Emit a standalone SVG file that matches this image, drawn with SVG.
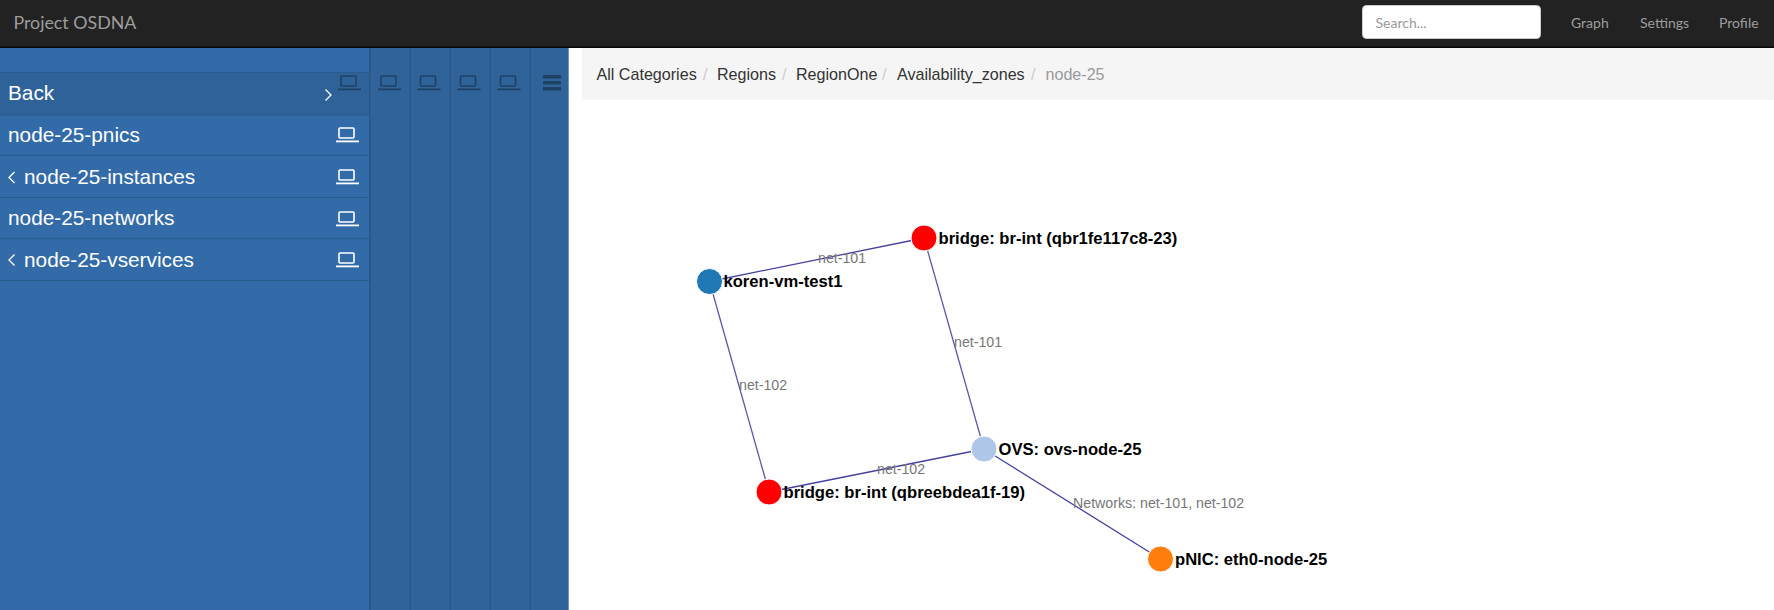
<svg xmlns="http://www.w3.org/2000/svg" width="1774" height="610" viewBox="0 0 1774 610">
<defs>
<style>
.nav{font-family:Lato,"Liberation Sans",sans-serif;font-size:14px;fill:#9d9d9d}
.menu{font-family:"Liberation Sans",Arial,sans-serif;font-size:20.800px;fill:#fff}
.crumb{font-family:"Liberation Sans",Arial,sans-serif;font-size:16.100px;fill:#333}
.sep{font-family:"Liberation Sans",Arial,sans-serif;font-size:16px;fill:#ccc}
.nl{font-family:"Liberation Sans",Arial,sans-serif;font-size:16.600px;font-weight:bold;fill:#000}
.el{font-family:"Liberation Sans",Arial,sans-serif;font-size:14.200px;fill:#777}
.edge{stroke:#5c58ad;stroke-width:1.300;fill:none}
.dark{stroke:#46429f}
.col{fill:#2f6399}
.div{fill:#295788}
.rowline{fill:#2a5a8e}
</style>
<g id="lap"><rect x="3" y="0.5" width="15" height="10" rx="1" fill="none" stroke="currentColor" stroke-width="1.6"/><rect x="0" y="13" width="23" height="1.8" fill="currentColor"/></g>
</defs>
<rect width="1774" height="610" fill="#fff"/>
<g id="navbar">
<rect width="1774" height="47" fill="#222"/><rect y="46.500" width="1774" height="1.500" fill="#080808"/>
<text x="13.500" y="29" font-family="Lato,'Liberation Sans',sans-serif" font-size="17.800" fill="#9d9d9d">Project OSDNA</text>
<rect x="1362.500" y="5.500" width="178" height="33" rx="4" fill="#fff" stroke="#ccc"/>
<text class="nav" x="1375.500" y="28" style="fill:#999">Search...</text>
<text class="nav" x="1571" y="28">Graph</text>
<text class="nav" x="1640" y="28">Settings</text>
<text class="nav" x="1719" y="28">Profile</text>
</g>
<g id="sidebar">
<rect y="48" width="568" height="562" class="col"/>
<rect x="0" y="48" width="369" height="562" fill="#336ba8"/>
<rect x="369" y="48" width="1.500" height="562" class="div"/><rect x="409.500" y="48" width="1.500" height="562" class="div"/><rect x="449.500" y="48" width="1.500" height="562" class="div"/><rect x="489.500" y="48" width="1.500" height="562" class="div"/><rect x="529.500" y="48" width="1.500" height="562" class="div"/>
<rect x="568" y="48" width="1" height="562" fill="#6d94bf"/>
<rect y="72" width="369" height="43" fill="#2f6299"/>
<rect y="72" width="369" height="1" class="rowline"/><rect y="114.500" width="369" height="1" class="rowline"/><rect y="154.800" width="369" height="1" class="rowline"/><rect y="197" width="369" height="1" class="rowline"/><rect y="238.200" width="369" height="1" class="rowline"/><rect y="280" width="369" height="1" class="rowline"/>
<g color="#1e4266"><use href="#lap" x="338" y="75.500"/><use href="#lap" x="378" y="75.500"/><use href="#lap" x="417.500" y="75.500"/><use href="#lap" x="457.500" y="75.500"/><use href="#lap" x="497.500" y="75.500"/></g>
<g fill="#1e4266"><rect x="543" y="75" width="18" height="3.500"/><rect x="543" y="81" width="18" height="3.500"/><rect x="543" y="87" width="18" height="3.500"/></g>
<g id="menu-back"><text class="menu" x="8" y="100">Back</text><path d="M325.500 89.500l5.500 5.500-5.500 5.500" fill="none" stroke="#fff" stroke-width="1.300"/></g>
<g id="menu-pnics"><text class="menu" x="8" y="141.500">node-25-pnics</text><use href="#lap" x="336" y="127.500" color="#fff"/></g>
<g id="menu-instances"><path d="M14.500 172l-5.500 5.500 5.500 5.500" fill="none" stroke="#fff" stroke-width="1.300"/><text class="menu" x="24" y="184">node-25-instances</text><use href="#lap" x="336" y="169.500" color="#fff"/></g>
<g id="menu-networks"><text class="menu" x="8" y="225">node-25-networks</text><use href="#lap" x="336" y="211.500" color="#fff"/></g>
<g id="menu-vservices"><path d="M14.500 254.500l-5.500 5.500 5.500 5.500" fill="none" stroke="#fff" stroke-width="1.300"/><text class="menu" x="24" y="266.500">node-25-vservices</text><use href="#lap" x="336" y="252.500" color="#fff"/></g>
</g>
<g id="breadcrumb">
<rect x="582" y="48" width="1192" height="52" fill="#f5f5f5"/>
<text class="crumb" x="596.500" y="80">All Categories</text><text class="sep" x="703" y="80">/</text>
<text class="crumb" x="717" y="80">Regions</text><text class="sep" x="782" y="80">/</text>
<text class="crumb" x="796" y="80">RegionOne</text><text class="sep" x="882" y="80">/</text>
<text class="crumb" x="897" y="80">Availability_zones</text><text class="sep" x="1031" y="80">/</text>
<text class="crumb" x="1045.500" y="80" style="fill:#999">node-25</text>
</g>
<g id="connectors">
<line class="edge dark" x1="709.500" y1="281.500" x2="924" y2="238"/>
<line class="edge" x1="709.500" y1="281.500" x2="769" y2="492"/>
<line class="edge" x1="924" y1="238" x2="984" y2="449"/>
<line class="edge dark" x1="769" y1="492" x2="984" y2="449"/>
<line class="edge dark" x1="984" y1="449" x2="1160.500" y2="559"/>
<text class="el" x="818" y="263">net-101</text>
<text class="el" x="954" y="347">net-101</text>
<text class="el" x="739" y="390">net-102</text>
<text class="el" x="877" y="474">net-102</text>
<text class="el" x="1073" y="508">Networks: net-101, net-102</text>
</g>
<g id="node-koren"><circle cx="709.500" cy="281.500" r="13" fill="#1f77b4" stroke="#fff"/><text class="nl" x="723.500" y="287">koren-vm-test1</text></g>
<g id="node-bridge1"><circle cx="924" cy="238" r="13" fill="#f00" stroke="#fff"/><text class="nl" x="938.500" y="244">bridge: br-int (qbr1fe117c8-23)</text></g>
<g id="node-ovs"><circle cx="984" cy="449" r="13" fill="#aec7e8" stroke="#fff"/><text class="nl" x="998.500" y="455">OVS: ovs-node-25</text></g>
<g id="node-bridge2"><circle cx="769" cy="492" r="13" fill="#f00" stroke="#fff"/><text class="nl" x="783.500" y="497.500">bridge: br-int (qbreebdea1f-19)</text></g>
<g id="node-pnic"><circle cx="1160.500" cy="559" r="13" fill="#ff7f0e" stroke="#fff"/><text class="nl" x="1175" y="565">pNIC: eth0-node-25</text></g>
</svg>
